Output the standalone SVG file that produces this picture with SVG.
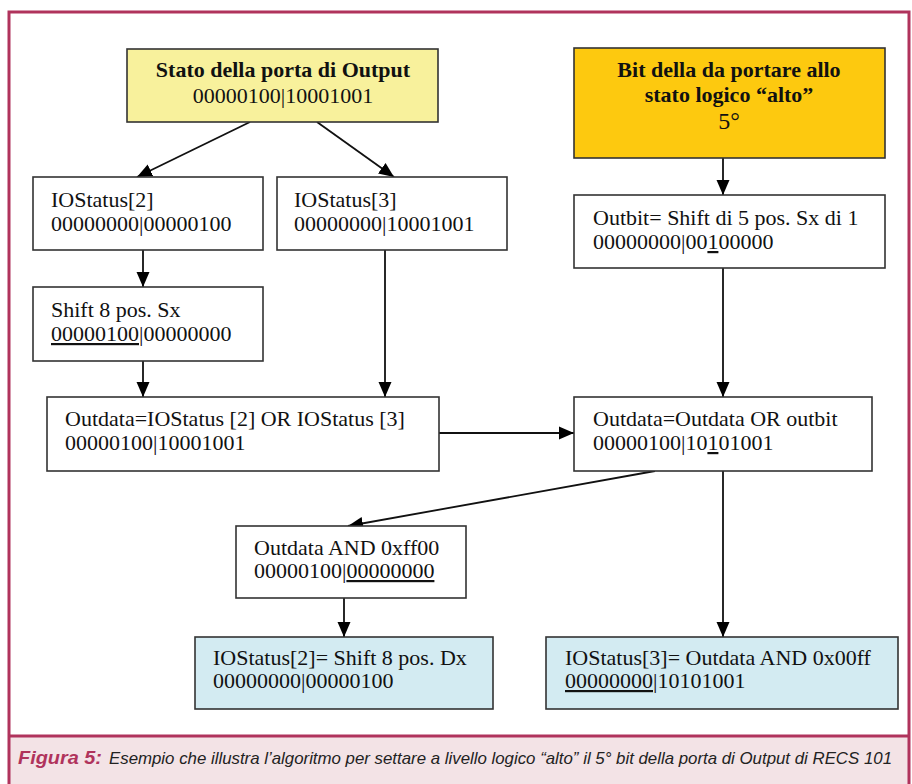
<svg xmlns="http://www.w3.org/2000/svg" width="912" height="784" viewBox="0 0 912 784">
  <defs>
    <marker id="arr" markerUnits="userSpaceOnUse" markerWidth="15" markerHeight="14" refX="15" refY="7" orient="auto">
      <path d="M0,0.5 L15,7 L0,13.5 Z" fill="#000"/>
    </marker>
    <style>
      .box { stroke: #333; stroke-width: 1.6; }
      .w { fill: #ffffff; }
      .yl { fill: #f8f19c; }
      .or { fill: #fdc90f; }
      .bl { fill: #d3ebf2; }
      .t { font-family: "Liberation Serif", "Times New Roman", serif; font-size: 22px; fill: #111; }
      .b { font-weight: bold; }
      .u { text-decoration: underline; }
      .c { stroke: #111; stroke-width: 1.8; fill: none; }
    </style>
  </defs>

  <rect x="0" y="0" width="912" height="784" fill="#ffffff"/>
  <!-- frame -->
  <rect x="9" y="736" width="900" height="50" fill="#f3e3e6"/>
  <path d="M9,786 L9,12 L909,12 L909,786" fill="none" stroke="#b0335c" stroke-width="3"/>
  <line x1="9" y1="736" x2="909" y2="736" stroke="#b0335c" stroke-width="3"/>

  <g id="connectors">
    <path class="c" d="M250,122 L137,177" marker-end="url(#arr)"/>
    <path class="c" d="M317,122 L394,177" marker-end="url(#arr)"/>
    <path class="c" d="M723,158 L723,195" marker-end="url(#arr)"/>
    <path class="c" d="M143,250 L143,287" marker-end="url(#arr)"/>
    <path class="c" d="M143,361 L143,397" marker-end="url(#arr)"/>
    <path class="c" d="M385,250 L385,397" marker-end="url(#arr)"/>
    <path class="c" d="M723,268 L723,397" marker-end="url(#arr)"/>
    <path class="c" d="M439,433 L574,433" marker-end="url(#arr)"/>
    <path class="c" d="M655,471 L348,526" marker-end="url(#arr)"/>
    <path class="c" d="M723,471 L723,637" marker-end="url(#arr)"/>
    <path class="c" d="M344,598 L344,637" marker-end="url(#arr)"/>
  </g>

  <g id="n-stato">
    <rect class="box yl" x="127" y="49" width="311" height="73"/>
    <text class="t b" x="283" y="77" text-anchor="middle">Stato della porta di Output</text>
    <text class="t" x="283" y="103" text-anchor="middle">00000100|10001001</text>
  </g>

  <g id="n-bit">
    <rect class="box or" x="574" y="48" width="311" height="110"/>
    <text class="t b" x="729" y="77" text-anchor="middle">Bit della da portare allo</text>
    <text class="t b" x="729" y="102" text-anchor="middle">stato logico “alto”</text>
    <text class="t" x="729" y="129" text-anchor="middle" style="font-size:24px">5°</text>
  </g>

  <g id="n-io2">
    <rect class="box w" x="33" y="177" width="230" height="73"/>
    <text class="t" x="51" y="207">IOStatus[2]</text>
    <text class="t" x="51" y="231">00000000|00000100</text>
  </g>

  <g id="n-io3">
    <rect class="box w" x="277" y="177" width="230" height="73"/>
    <text class="t" x="294" y="207">IOStatus[3]</text>
    <text class="t" x="294" y="231">00000000|10001001</text>
  </g>

  <g id="n-outbit">
    <rect class="box w" x="574" y="195" width="311" height="73"/>
    <text class="t" x="593" y="225">Outbit= Shift di 5 pos. Sx di 1</text>
    <text class="t" x="593" y="249">00000000|00<tspan class="u">1</tspan>00000</text>
  </g>

  <g id="n-shift">
    <rect class="box w" x="33" y="287" width="230" height="74"/>
    <text class="t" x="51" y="317">Shift 8 pos. Sx</text>
    <text class="t" x="51" y="341"><tspan class="u">00000100</tspan>|00000000</text>
  </g>

  <g id="n-or1">
    <rect class="box w" x="47" y="397" width="392" height="74"/>
    <text class="t" x="65" y="426">Outdata=IOStatus [2] OR IOStatus [3]</text>
    <text class="t" x="65" y="450">00000100|10001001</text>
  </g>

  <g id="n-or2">
    <rect class="box w" x="574" y="397" width="298" height="74"/>
    <text class="t" x="593" y="426">Outdata=Outdata OR outbit</text>
    <text class="t" x="593" y="450">00000100|10<tspan class="u">1</tspan>01001</text>
  </g>

  <g id="n-and">
    <rect class="box w" x="236" y="526" width="230" height="72"/>
    <text class="t" x="254" y="555">Outdata AND 0xff00</text>
    <text class="t" x="254" y="578">00000100|<tspan class="u">00000000</tspan></text>
  </g>

  <g id="n-res2">
    <rect class="box bl" x="195" y="637" width="298" height="72"/>
    <text class="t" x="213" y="665">IOStatus[2]= Shift 8 pos. Dx</text>
    <text class="t" x="213" y="688">00000000|00000100</text>
  </g>

  <g id="n-res3">
    <rect class="box bl" x="546" y="637" width="352" height="72"/>
    <text class="t" x="565" y="665">IOStatus[3]= Outdata AND 0x00ff</text>
    <text class="t" x="565" y="688"><tspan class="u">00000000</tspan>|10101001</text>
  </g>

  <g id="caption">
    <text x="18" y="764" style="font-family:'Liberation Sans', Arial, sans-serif; font-size:18px; font-style:italic; font-weight:bold; fill:#b0335c" textLength="84" lengthAdjust="spacingAndGlyphs">Figura 5:</text>
    <text x="109" y="764" style="font-family:'Liberation Sans', Arial, sans-serif; font-size:17px; font-style:italic; fill:#222" textLength="783" lengthAdjust="spacingAndGlyphs">Esempio che illustra l’algoritmo per settare a livello logico “alto” il 5° bit della porta di Output di RECS 101</text>
  </g>
</svg>
